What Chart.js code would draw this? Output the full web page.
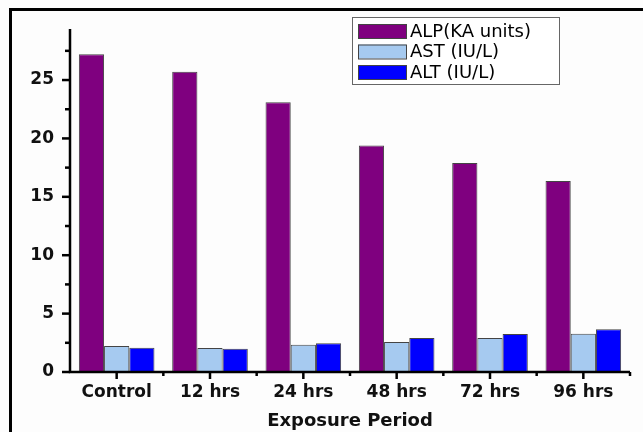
<!DOCTYPE html>
<html>
<head>
<meta charset="utf-8">
<script src="https://cdn.jsdelivr.net/npm/chart.js@4/dist/chart.umd.min.js"></script>
<style>
  html, body { margin: 0; padding: 0; background: #fff; }
  #wrap { width: 643px; height: 432px; }
</style>
</head>
<body>
<div id="wrap"><canvas id="chart" width="643" height="432"></canvas></div>
<script>
const categories = ['Control', '12 hrs', '24 hrs', '48 hrs', '72 hrs', '96 hrs'];
const alpValues = [27.2, 25.7, 23.1, 19.4, 17.9, 16.35];
const astValues = [2.23, 2.05, 2.34, 2.57, 2.91, 3.28];
const altValues = [2.08, 2.0, 2.46, 2.91, 3.25, 3.66];
const yTickValues = [0, 2.5, 5, 7.5, 10, 12.5, 15, 17.5, 20, 22.5, 25, 27.5];

// frame, axes, tick marks and legend drawn by hand
const decor = {
  id: 'decor',
  beforeDraw(chart) {
    const ctx = chart.ctx;
    ctx.save();
    ctx.fillStyle = '#fdfdfd';
    ctx.fillRect(0, 0, chart.width, chart.height);
    ctx.fillStyle = '#000';
    ctx.fillRect(9, 8, chart.width - 9, 3);
    ctx.fillRect(9, 8, 3, chart.height - 8);
    ctx.restore();
  },
  afterDraw(chart) {
    const ctx = chart.ctx;
    const a = chart.chartArea;
    const x = chart.scales.x, y = chart.scales.y;
    ctx.save();
    ctx.strokeStyle = '#000';
    ctx.lineWidth = 2.5;
    ctx.beginPath();
    ctx.moveTo(a.left, a.top);
    ctx.lineTo(a.left, a.bottom);
    ctx.lineTo(a.right, a.bottom);
    ctx.stroke();
    yTickValues.forEach(v => {
      const py = y.getPixelForValue(v);
      const len = v % 5 === 0 ? 8 : 5;
      ctx.beginPath();
      ctx.moveTo(a.left, py);
      ctx.lineTo(a.left - len, py);
      ctx.stroke();
    });
    categories.forEach((c, i) => {
      const px = x.getPixelForValue(i);
      ctx.beginPath();
      ctx.moveTo(px, a.bottom);
      ctx.lineTo(px, a.bottom + 7);
      ctx.stroke();
    });
    const step = (a.right - a.left) / categories.length;
    for (let i = 1; i <= categories.length; i++) {
      const px = a.left + step * i;
      ctx.beginPath();
      ctx.moveTo(px, a.bottom);
      ctx.lineTo(px, a.bottom + 4);
      ctx.stroke();
    }
    // legend
    const lx = 352, ly = 17, lw = 207, lh = 67;
    ctx.fillStyle = '#fff';
    ctx.fillRect(lx, ly, lw, lh);
    ctx.strokeStyle = '#666';
    ctx.lineWidth = 1;
    ctx.strokeRect(lx + 0.5, ly + 0.5, lw, lh);
    ctx.font = '18px "DejaVu Sans"';
    ctx.textBaseline = 'middle';
    chart.data.datasets.forEach((ds, i) => {
      const cy = 31 + i * 20.5;
      ctx.fillStyle = ds.backgroundColor;
      ctx.fillRect(358, cy - 7, 48, 14);
      ctx.strokeStyle = '#444';
      ctx.strokeRect(358.5, cy - 6.5, 48, 14);
      ctx.fillStyle = '#000';
      ctx.fillText(ds.label, 410, cy + 1);
    });
    ctx.restore();
  }
};

new Chart(document.getElementById('chart'), {
  type: 'bar',
  data: {
    labels: categories,
    datasets: [
      { label: 'ALP(KA units)', data: alpValues, backgroundColor: '#7f007f' },
      { label: 'AST (IU/L)', data: astValues, backgroundColor: '#a6caf0' },
      { label: 'ALT (IU/L)', data: altValues, backgroundColor: '#0000ff' }
    ]
  },
  options: {
    responsive: false,
    animation: false,
    devicePixelRatio: 1,
    layout: { padding: { top: 29, right: 13, left: 0, bottom: 0 } },
    datasets: {
      bar: {
        categoryPercentage: 0.81,
        barPercentage: 1.0,
        borderColor: '#444',
        borderWidth: 1,
        borderSkipped: 'bottom'
      }
    },
    plugins: {
      legend: { display: false },
      tooltip: { enabled: false }
    },
    scales: {
      x: {
        afterFit(s) { s.height = 60; },
        grid: { display: false, drawTicks: false },
        border: { display: false },
        ticks: {
          color: '#111',
          padding: 10,
          font: { family: '"DejaVu Sans"', size: 17, weight: 'bold' }
        },
        title: {
          display: true,
          text: 'Exposure Period',
          color: '#111',
          padding: { top: 4, bottom: 0 },
          font: { family: '"DejaVu Sans"', size: 18, weight: 'bold' }
        }
      },
      y: {
        min: 0,
        max: 29.37,
        afterFit(s) { s.width = 70; },
        afterBuildTicks(s) { s.ticks = [0, 5, 10, 15, 20, 25].map(v => ({ value: v })); },
        grid: { display: false, drawTicks: false },
        border: { display: false },
        ticks: {
          color: '#111',
          padding: 16,
          font: { family: '"DejaVu Sans"', size: 17, weight: 'bold' }
        }
      }
    }
  },
  plugins: [decor]
});
</script>
</body>
</html>
